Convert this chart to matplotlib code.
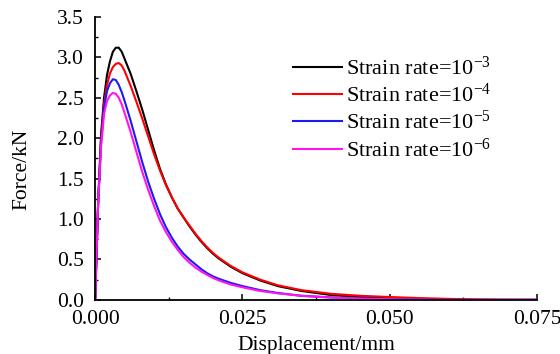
import matplotlib
matplotlib.use('Agg')
from matplotlib import pyplot as plt
from matplotlib.ticker import MultipleLocator, FormatStrFormatter

plt.rcParams['font.family'] = ['Liberation Serif', 'DejaVu Serif']
plt.rcParams['mathtext.fontset'] = 'custom'
plt.rcParams['mathtext.rm'] = 'Liberation Serif'

# displacement (mm) and force (kN)
disp = [0, 0.0002, 0.0005, 0.001, 0.0015, 0.002, 0.0025, 0.003, 0.0035, 0.004,
        0.0045, 0.005, 0.006, 0.007, 0.008, 0.009, 0.010, 0.011, 0.012, 0.013,
        0.014, 0.015, 0.016, 0.017, 0.018, 0.019, 0.020, 0.021, 0.023, 0.025,
        0.028, 0.031, 0.035, 0.040, 0.045, 0.050, 0.055, 0.060, 0.065, 0.070, 0.075]

force_1e3 = [0, 0.5, 1.2, 2.05, 2.5, 2.78, 2.95, 3.07, 3.12, 3.12,
             3.07, 2.98, 2.8, 2.58, 2.35, 2.1, 1.85, 1.62, 1.43, 1.27,
             1.13, 1.02, 0.91, 0.81, 0.72, 0.64, 0.57, 0.51, 0.41, 0.33,
             0.24, 0.17, 0.11, 0.06, 0.035, 0.02, 0.01, 0.0, 0.0, 0.0, 0.0]
force_1e4 = [0, 0.5, 1.2, 2.0, 2.42, 2.66, 2.8, 2.88, 2.92, 2.93,
             2.9, 2.83, 2.65, 2.45, 2.24, 2.02, 1.8, 1.6, 1.42, 1.27,
             1.13, 1.02, 0.92, 0.82, 0.73, 0.65, 0.58, 0.52, 0.42, 0.34,
             0.25, 0.18, 0.12, 0.075, 0.05, 0.035, 0.022, 0.012, 0.005, 0.0, 0.0]
force_1e5 = [0, 0.5, 1.2, 1.95, 2.38, 2.58, 2.68, 2.73, 2.72, 2.66,
             2.57, 2.46, 2.22, 1.96, 1.7, 1.46, 1.25, 1.06, 0.9, 0.77,
             0.66, 0.57, 0.5, 0.44, 0.38, 0.33, 0.29, 0.26, 0.21, 0.17,
             0.12, 0.085, 0.05, 0.03, 0.018, 0.01, 0.003, 0.0, 0.0, 0.0, 0.0]
force_1e6 = [0, 0.5, 1.2, 1.9, 2.3, 2.46, 2.53, 2.56, 2.55, 2.5,
             2.42, 2.31, 2.08, 1.83, 1.58, 1.36, 1.16, 0.98, 0.84, 0.72,
             0.62, 0.53, 0.46, 0.4, 0.35, 0.31, 0.27, 0.24, 0.19, 0.155,
             0.11, 0.08, 0.05, 0.028, 0.015, 0.008, 0.003, 0.0, 0.0, 0.0, 0.0]

series = [force_1e3, force_1e4, force_1e5, force_1e6]
labels = ['Strain rate=10$\\mathregular{^{-3}}$', 'Strain rate=10$\\mathregular{^{-4}}$',
          'Strain rate=10$\\mathregular{^{-5}}$', 'Strain rate=10$\\mathregular{^{-6}}$']
colors = ['black', 'red', '#1c1cf0', '#ff14f0']

fig = plt.figure(figsize=(5.6, 3.54), dpi=100)
ax = fig.add_axes([0.170, 0.153, 0.789, 0.799])

for f, lab, c in zip(series, labels, colors):
    ax.plot(disp, f, color=c, lw=1.5, label=lab)

ax.set_xlim(0, 0.075)
ax.set_ylim(0, 3.5)
ax.xaxis.set_major_locator(MultipleLocator(0.025))
ax.xaxis.set_minor_locator(MultipleLocator(0.0125))
ax.yaxis.set_major_locator(MultipleLocator(0.5))
ax.yaxis.set_minor_locator(MultipleLocator(0.25))
ax.xaxis.set_major_formatter(FormatStrFormatter('%.3f'))
ax.yaxis.set_major_formatter(FormatStrFormatter('%.1f'))

ax.spines['top'].set_visible(False)
ax.spines['right'].set_visible(False)
ax.spines['left'].set_linewidth(1.3)
ax.spines['bottom'].set_linewidth(1.3)
ax.tick_params(which='major', direction='in', length=4, width=1.1, labelsize=15.5)
ax.tick_params(axis='x', which='major', pad=7)
ax.tick_params(axis='y', which='major', pad=8)
ax.tick_params(which='minor', direction='in', length=2.5, width=1.0)

ax.set_xlabel('Displacement/mm', fontsize=15.5)
ax.set_ylabel('Force/kN', fontsize=15.5)
ax.xaxis.set_label_coords(0.5, -0.128)
ax.yaxis.set_label_coords(-0.145, 0.46)

ax.legend(loc='upper left', bbox_to_anchor=(0.448, 0.86), frameon=False,
          fontsize=16, handlelength=2.2, handletextpad=0.2, labelspacing=0.18,
          borderpad=0, borderaxespad=0)

fig.savefig('out.png', dpi=100)
